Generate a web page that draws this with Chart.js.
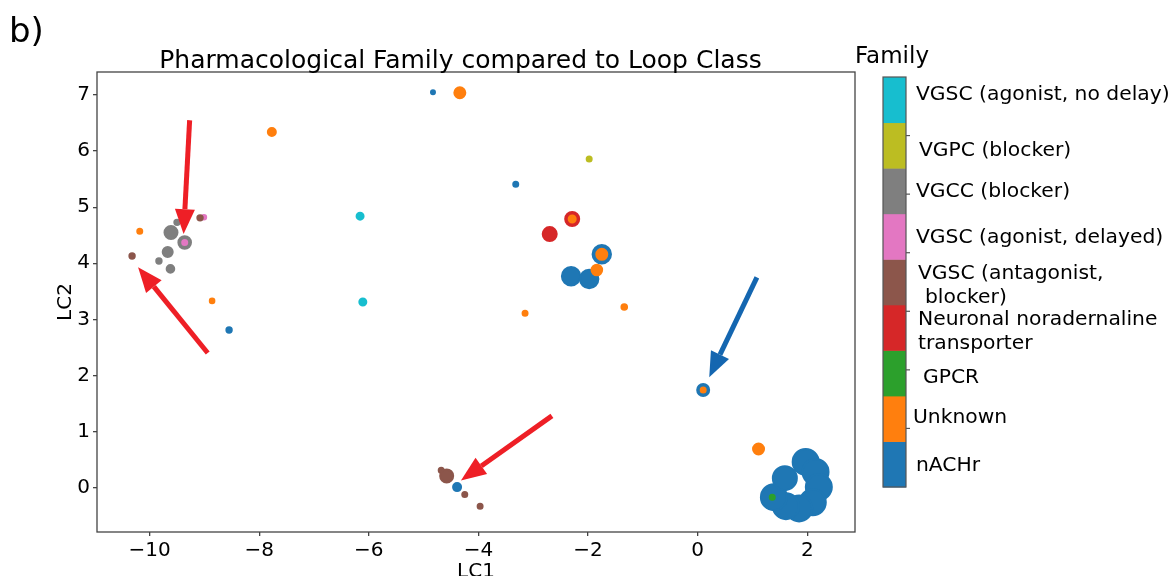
<!DOCTYPE html>
<html>
<head>
<meta charset="utf-8">
<script src="https://cdn.jsdelivr.net/npm/chart.js@4.4.0/dist/chart.umd.min.js"></script>
<style>
  html, body { margin: 0; padding: 0; background: #fff; overflow: hidden; }
  canvas { display: block; }
</style>
</head>
<body>
<canvas id="loopChart" width="1173" height="576"></canvas>
<script>
// points per family: [LC1, LC2, marker radius]
const nACHr = [
    [-4.83, 7.05, 3], [-8.55, 2.81, 3.7], [-3.32, 5.41, 3.5],
    [-1.75, 4.16, 10.2], [-2.31, 3.77, 10.2], [-1.98, 3.72, 10.2],
    [0.10, 1.74, 7], [-4.39, 0.01, 5],
    [1.97, 0.46, 14], [2.15, 0.28, 14], [2.21, 0.01, 14], [2.10, -0.26, 14],
    [1.85, -0.37, 14], [1.61, -0.33, 14], [1.39, -0.17, 14], [1.59, 0.17, 13]
];
const unknown = [
    [-7.77, 6.34, 5], [-10.18, 4.57, 3.5], [-8.86, 3.33, 3.3], [-4.34, 7.04, 6.5],
    [-2.29, 4.79, 4.5], [-1.75, 4.16, 6.5], [-1.84, 3.88, 6.3], [-3.15, 3.11, 3.5],
    [-1.34, 3.22, 3.8], [0.10, 1.74, 3.5], [1.11, 0.69, 6.5]
];
const gpcr = [[1.36, -0.17, 3.5]];
const noradTransporter = [[-2.29, 4.79, 8], [-2.70, 4.52, 8]];
const vgscAntagonist = [
    [-9.08, 4.81, 3.7], [-10.32, 4.13, 3.7], [-4.68, 0.31, 3.5],
    [-4.58, 0.21, 7.5], [-4.25, -0.12, 3.5], [-3.97, -0.33, 3.5]
];
const vgscDelayed = [[-9.01, 4.82, 3.3], [-9.36, 4.37, 3.5]];
const vgcc = [
    [-9.50, 4.73, 3.7], [-9.61, 4.55, 7.5], [-9.36, 4.37, 7.3],
    [-9.67, 4.20, 6], [-9.83, 4.04, 3.7], [-9.62, 3.90, 4.8]
];
const vgpc = [[-1.98, 5.86, 3.5]];
const vgscNoDelay = [[-6.16, 4.84, 4.5], [-6.11, 3.31, 4.5]];

// colorbar order, bottom to top
const families = ['nACHr', 'Unknown', 'GPCR', 'Neuronal noradernaline transporter',
    'VGSC (antagonist, blocker)', 'VGSC (agonist, delayed)', 'VGCC (blocker)',
    'VGPC (blocker)', 'VGSC (agonist, no delay)'];
const familyPoints = [nACHr, unknown, gpcr, noradTransporter, vgscAntagonist,
    vgscDelayed, vgcc, vgpc, vgscNoDelay];
const familyColors = ['#1f77b4', '#ff7f0e', '#2ca02c', '#d62728', '#8c564b',
    '#e377c2', '#7f7f7f', '#bcbd22', '#17becf'];
const drawOrder = [9, 4, 3, 8, 5, 6, 7, 2, 1]; // higher = further back

const xTicks = [-10, -8, -6, -4, -2, 0, 2];
const yTicks = [0, 1, 2, 3, 4, 5, 6, 7];

// annotation arrows: [fromX, fromY, toX, toY, colour]
const arrows = [
    [-9.27, 6.55, -9.38, 4.52, '#ee1f26'],
    [-8.94, 2.40, -10.21, 3.93, '#ee1f26'],
    [-2.66, 1.28, -4.32, 0.13, '#ee1f26'],
    [1.08, 3.75, 0.21, 1.97, '#1466b0']
];

const FONT = "'DejaVu Sans', sans-serif";
const minus = v => (v < 0 ? '\u2212' + Math.abs(v) : String(v));

function drawArrow(ctx, x1, y1, x2, y2, color) {
    const ang = Math.atan2(y2 - y1, x2 - x1);
    const headLen = 25, headHalf = 10;
    const bx = x2 - headLen * Math.cos(ang), by = y2 - headLen * Math.sin(ang);
    ctx.save();
    ctx.strokeStyle = color; ctx.fillStyle = color;
    ctx.lineWidth = 5; ctx.lineCap = 'butt';
    ctx.beginPath(); ctx.moveTo(x1, y1); ctx.lineTo(bx, by); ctx.stroke();
    ctx.beginPath();
    ctx.moveTo(x2, y2);
    ctx.lineTo(bx + headHalf * Math.sin(ang), by - headHalf * Math.cos(ang));
    ctx.lineTo(bx - headHalf * Math.sin(ang), by + headHalf * Math.cos(ang));
    ctx.closePath(); ctx.fill();
    ctx.restore();
}

// colorbar labels (some wrapped / padded like the original)
const cbarLabels = [
    { text: 'VGSC (agonist, no delay)', x: 916, y: 95 },
    { text: 'VGPC (blocker)', x: 919, y: 151 },
    { text: 'VGCC (blocker)', x: 916, y: 192 },
    { text: 'VGSC (agonist, delayed)', x: 916, y: 238 },
    { text: 'VGSC (antagonist,', x: 918, y: 274 },
    { text: 'blocker)', x: 925, y: 298 },
    { text: 'Neuronal noradernaline', x: 918, y: 320 },
    { text: 'transporter', x: 918, y: 344 },
    { text: 'GPCR', x: 923, y: 378 },
    { text: 'Unknown', x: 913, y: 418 },
    { text: 'nACHr', x: 916, y: 466 }
];

const decorations = {
    id: 'decorations',
    afterDatasetsDraw(chart) {
        const { ctx, chartArea: a, scales: { x, y } } = chart;
        arrows.forEach(([x1, y1, x2, y2, c]) => drawArrow(ctx,
            x.getPixelForValue(x1), y.getPixelForValue(y1),
            x.getPixelForValue(x2), y.getPixelForValue(y2), c));
        ctx.save();
        ctx.strokeStyle = '#444'; ctx.lineWidth = 1.3;
        ctx.strokeRect(a.left, a.top, a.right - a.left, a.bottom - a.top);
        ctx.restore();
    },
    afterDraw(chart) {
        const ctx = chart.ctx;
        ctx.save();
        ctx.fillStyle = '#000';
        ctx.textBaseline = 'alphabetic';
        ctx.font = '34px ' + FONT;
        ctx.textAlign = 'left';
        ctx.fillText('b)', 9, 42);
        ctx.font = '25px ' + FONT;
        ctx.textAlign = 'center';
        ctx.fillText('Pharmacological Family compared to Loop Class', 460.5, 68);
        ctx.font = '23px ' + FONT;
        ctx.textAlign = 'left';
        ctx.fillText('Family', 855, 63);

        // colorbar
        const cx = 883, cw = 23, top = 77, bottom = 487;
        const seg = (bottom - top) / families.length;
        familyColors.forEach((col, i) => {
            ctx.fillStyle = col;
            ctx.fillRect(cx, bottom - (i + 1) * seg, cw, seg + 0.5);
        });
        ctx.strokeStyle = '#555'; ctx.lineWidth = 1.2;
        ctx.strokeRect(cx, top, cw, bottom - top);
        for (let k = 1; k < 7; k++) {
            const ty = top + k * (bottom - top) / 7;
            ctx.beginPath(); ctx.moveTo(cx + cw, ty); ctx.lineTo(cx + cw + 4, ty); ctx.stroke();
        }
        ctx.fillStyle = '#000';
        ctx.font = '20.3px ' + FONT;
        ctx.textBaseline = 'middle';
        cbarLabels.forEach(l => ctx.fillText(l.text, l.x, l.y));
        ctx.restore();
    }
};

// stroke in the fill colour, so subtract half the stroke from the radius
const EDGE = 2;
const datasets = families.map((name, i) => ({
    label: name,
    data: familyPoints[i].map(p => ({ x: p[0], y: p[1], r: p[2] - EDGE / 2 })),
    backgroundColor: familyColors[i],
    borderColor: familyColors[i],
    hoverBackgroundColor: familyColors[i],
    hoverBorderColor: familyColors[i],
    borderWidth: EDGE,
    hoverBorderWidth: EDGE,
    order: drawOrder[i]
}));

new Chart(document.getElementById('loopChart').getContext('2d'), {
    type: 'bubble',
    data: { datasets },
    options: {
        responsive: false,
        animation: false,
        events: [],
        layout: { padding: { left: 0, right: 318, top: 72, bottom: 0 } },
        plugins: { legend: { display: false }, tooltip: { enabled: false } },
        scales: {
            x: {
                type: 'linear', min: -10.96, max: 2.87,
                afterBuildTicks: s => { s.ticks = xTicks.map(v => ({ value: v })); },
                afterFit: s => { s.height = 44; },
                grid: { drawOnChartArea: false, drawTicks: true, tickLength: 4, color: '#444', lineWidth: 1.3 },
                border: { display: false },
                ticks: { color: '#000', font: { family: FONT, size: 20 }, padding: 3, callback: v => minus(v) },
                title: { display: true, text: 'LC1', color: '#000', font: { family: FONT, size: 20 }, padding: { top: 0, bottom: -8 } }
            },
            y: {
                type: 'linear', min: -0.79, max: 7.41,
                afterBuildTicks: s => { s.ticks = yTicks.map(v => ({ value: v })); },
                afterFit: s => { s.width = 97; },
                grid: { drawOnChartArea: false, drawTicks: true, tickLength: 4, color: '#444', lineWidth: 1.3 },
                border: { display: false },
                ticks: { color: '#000', font: { family: FONT, size: 20 }, padding: 3, callback: v => minus(v) },
                title: { display: true, text: 'LC2', color: '#000', font: { family: FONT, size: 20 }, padding: { top: 54, bottom: 0 } }
            }
        }
    },
    plugins: [decorations]
});
</script>
</body>
</html>
